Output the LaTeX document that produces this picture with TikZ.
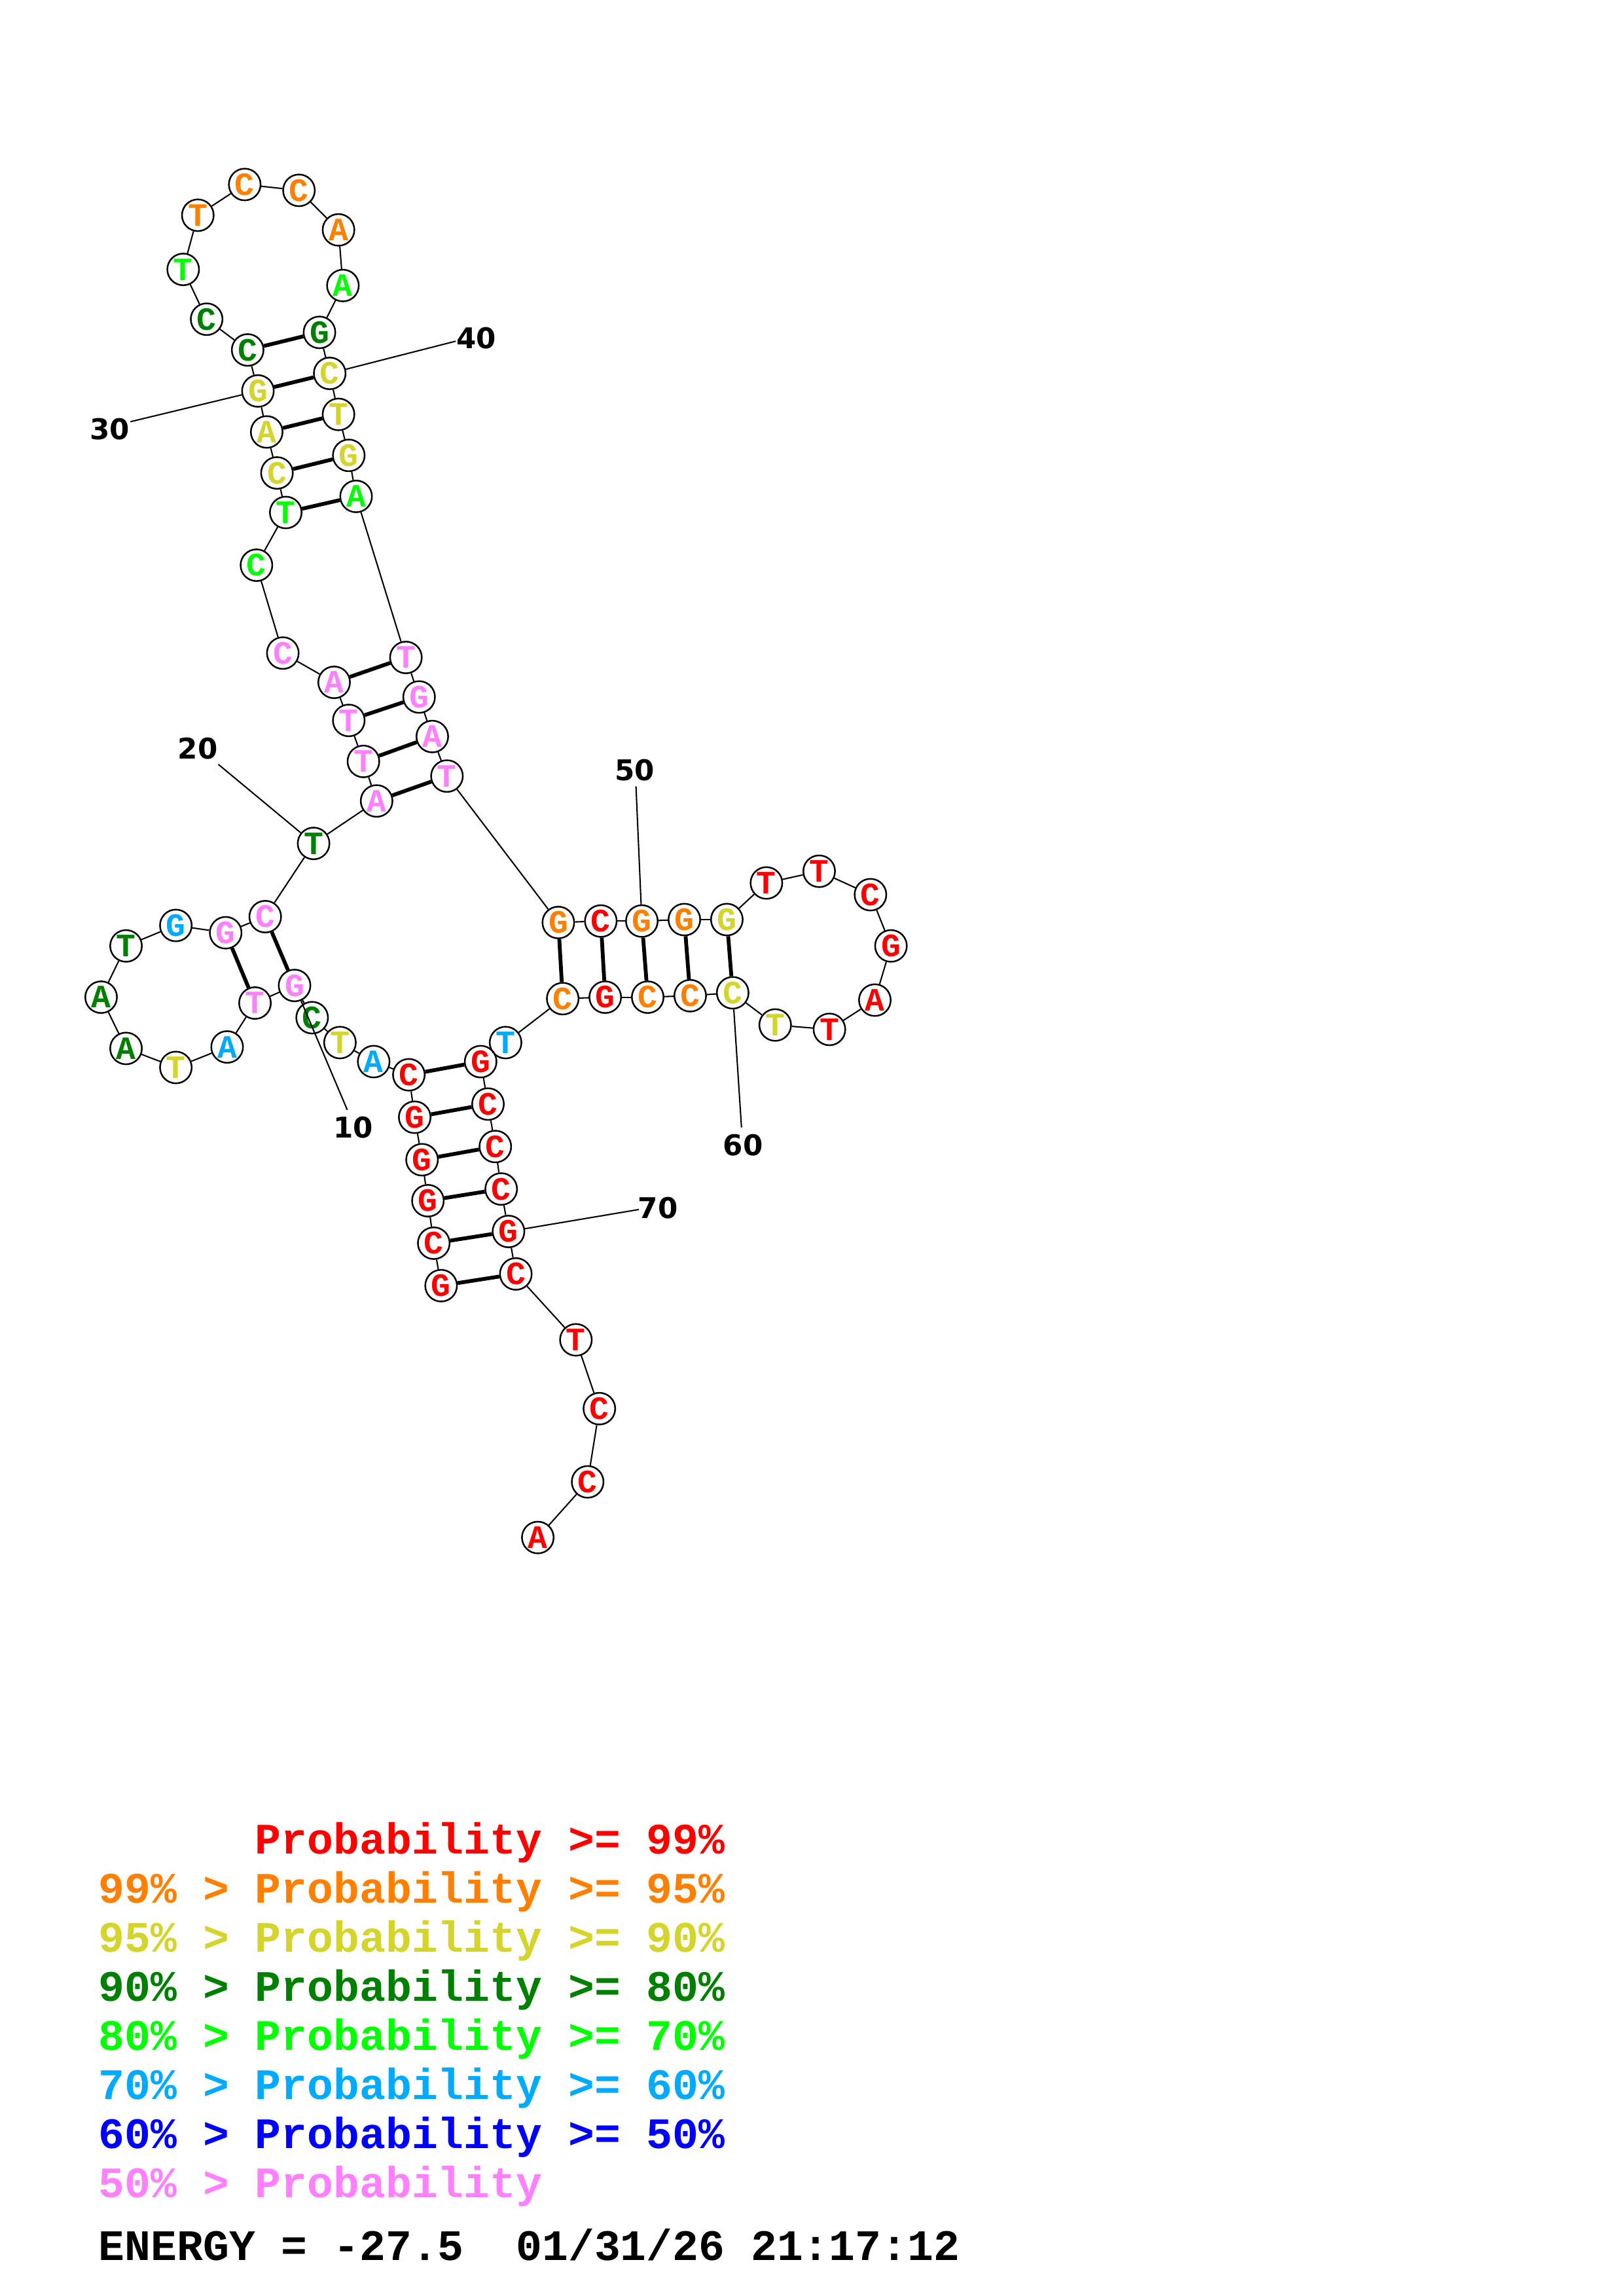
\documentclass[tikz,border=0pt]{standalone}
\usepackage{fontspec}
\usepackage{xcolor}
\usetikzlibrary{positioning}
\newfontfamily\basefont{Liberation Mono}
\newfontfamily\numfont{DejaVu Sans}
\definecolor{pr}{RGB}{255,0,0}
\definecolor{po}{RGB}{255,128,0}
\definecolor{py}{RGB}{212,212,42}
\definecolor{pd}{RGB}{0,128,0}
\definecolor{pl}{RGB}{0,255,0}
\definecolor{ps}{RGB}{0,170,255}
\definecolor{pb}{RGB}{0,0,255}
\definecolor{pp}{RGB}{255,128,255}

\begin{document}
\begin{tikzpicture}[
          x=0.18953mm, y=-0.18941mm,
          base/.style={circle, draw, line width=0.6pt, fill=white, minimum size=4.1mm, inner sep=0pt,
                       font=\basefont\bfseries\fontsize{12}{12}\selectfont},
          bond/.style={line width=0.5pt},
          pair/.style={line width=1.4pt},
          tick/.style={line width=0.5pt},
          numlabel/.style={inner sep=0pt, font=\numfont\bfseries\fontsize{10.5}{10.5}\selectfont},
          legend/.style={anchor=base west, inner sep=0pt, font=\basefont\bfseries\fontsize{16}{18}\selectfont}
        ]
          \useasboundingbox (0,0) rectangle (1108,1568);
          % bases
          \foreach \n/\x/\y/\b/\c in {
            1/301/878/G/pr, 2/296/849/C/pr, 3/292/820/G/pr, 4/288/792/G/pr, 5/283/763/G/pr,
            6/279/734/C/pr, 7/255/725/A/ps, 8/232/712/T/py, 9/213/695/C/pd, 10/201/673/G/pp,
            11/174/685/T/pp, 12/155/715/A/ps, 13/120/729/T/py, 14/86/716/A/pd, 15/69/681/A/pd,
            16/86/646/T/pd, 17/120/632/G/ps, 18/154/637/G/pp, 19/181/626/C/pp, 20/214/576/T/pd,
            21/257/547/A/pp, 22/248/520/T/pp, 23/238/492/T/pp, 24/228/466/A/pp, 25/193/446/C/pp,
            26/175/386/C/pl, 27/195/350/T/pl, 28/189/323/C/py, 29/182/295/A/py, 30/176/267/G/py,
            31/169/239/C/pd, 32/141/218/C/pd, 33/125/184/T/pl, 34/135/147/T/po, 35/167/126/C/po,
            36/204/130/C/po, 37/231/157/A/po, 38/234/195/A/pl, 39/218/227/G/pd, 40/225/255/C/py,
            41/231/283/T/py, 42/238/311/G/py, 43/243/339/A/pl, 44/277/449/T/pp, 45/286/476/G/pp,
            46/295/503/A/pp, 47/305/530/T/pp, 48/381/630/G/po, 49/410/629/C/pr, 50/438/629/G/po,
            51/467/628/G/po, 52/496/628/G/py, 53/523/603/T/pr, 54/559/595/T/pr, 55/594/611/C/pr,
            56/608/646/G/pr, 57/597/683/A/pr, 58/566/703/T/pr, 59/529/700/T/py, 60/500/678/C/py,
            61/471/680/C/po, 62/442/681/C/po, 63/413/681/G/pr, 64/384/682/C/po, 65/345/712/T/ps,
            66/328/725/G/pr, 67/333/754/C/pr, 68/338/783/C/pr, 69/342/812/C/pr, 70/347/841/G/pr,
            71/352/870/C/pr, 72/393/915/T/pr, 73/409/962/C/pr, 74/401/1012/C/pr, 75/367/1050/A/pr}
            \node[base, text=\c] (n\n) at (\x,\y) {\b};
          % backbone
          \foreach \i [remember=\i as \k (initially 1)] in {2,...,75}
            \draw[bond] (n\k) -- (n\i);
          % base pairs
          \foreach \a/\b in {1/71, 2/70, 3/69, 4/68, 5/67, 6/66, 10/19, 11/18, 21/47, 22/46,
                             23/45, 24/44, 27/43, 28/42, 29/41, 30/40, 31/39, 48/64, 49/63,
                             50/62, 51/61, 52/60}
            \draw[pair] (n\a) -- (n\b);
          % position numbers
          \foreach \n/\ex/\ey/\lx/\ly in {10/237/758/241/770, 20/149/522/135/511, 30/89/288/75/293,
                                          40/311/233/325/231, 50/434/537/433/526, 60/506/770/507/782,
                                          70/436/826/449/825}
          {
            \coordinate (e\n) at (\ex,\ey);
            \node[numlabel] (l\n) at (\lx,\ly) {\n};
            \draw[tick] (n\n) -- (e\n);
          }
          % legend
          \node[legend, text=pr] (k1) at (67,1266) {\phantom{99\% > }Probability >= 99\%};
          \node[legend, text=po] (k2) at (67,1299.5) {99\% > Probability >= 95\%};
          \node[legend, text=py] (k3) at (67,1333) {95\% > Probability >= 90\%};
          \node[legend, text=pd] (k4) at (67,1366.5) {90\% > Probability >= 80\%};
          \node[legend, text=pl] (k5) at (67,1400) {80\% > Probability >= 70\%};
          \node[legend, text=ps] (k6) at (67,1433.5) {70\% > Probability >= 60\%};
          \node[legend, text=pb] (k7) at (67,1467) {60\% > Probability >= 50\%};
          \node[legend, text=pp] (k8) at (67,1500.5) {50\% > Probability};
          \node[legend] (energy) at (67,1543.5) {ENERGY = -27.5~~01/31/26 21:17:12};
        \end{tikzpicture}
\end{document}
